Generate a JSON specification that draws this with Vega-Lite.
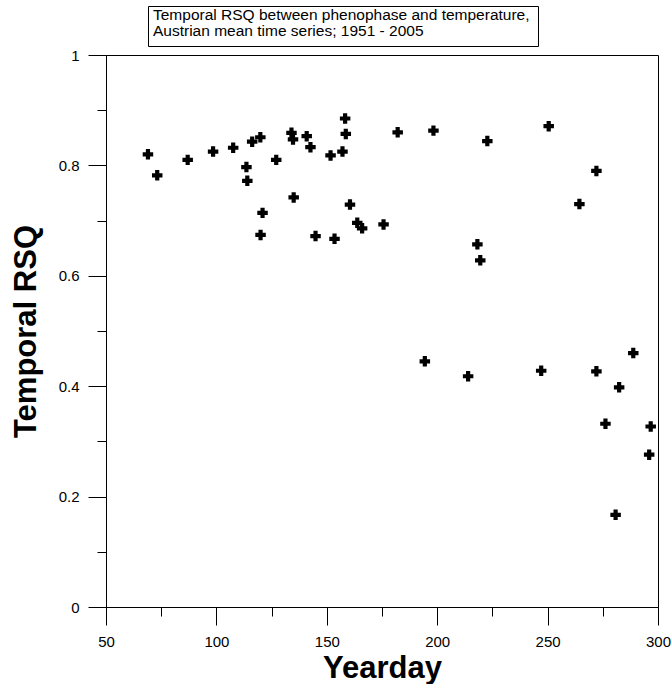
{
  "$schema": "https://vega.github.io/schema/vega-lite/v6.json",
  "padding": {"left": 9, "top": 5, "right": 0, "bottom": 0},
  "background": "white",
  "config": {
    "font": "Liberation Sans",
    "view": {"stroke": "black", "strokeWidth": 1},
    "axis": {
      "grid": false,
      "domainColor": "black",
      "tickColor": "black",
      "labelColor": "black",
      "titleColor": "black",
      "labelFont": "Liberation Sans",
      "labelFontSize": 15,
      "titleFont": "Liberation Sans",
      "titleFontSize": 31,
      "titleFontWeight": "bold"
    }
  },
  "spacing": 0,
  "vconcat": [
    {
      "spacing": 0,
      "hconcat": [
        {
          "width": 41,
          "height": 40,
          "view": {"stroke": null},
          "data": {"values": [{"line": 0}]},
          "mark": {"type": "text"},
          "encoding": {"text": {"value": ""}}
        },
        {
          "width": 390,
          "height": 40,
          "view": {"stroke": "black", "strokeWidth": 1},
          "data": {"values": [
            {"line": 1, "text": "Temporal RSQ between phenophase and temperature,"},
            {"line": 2, "text": "Austrian mean time series; 1951 - 2005"}
          ]},
          "mark": {"type": "text", "align": "left", "baseline": "middle", "fontSize": 15.5, "dx": 5, "color": "black", "font": "Liberation Sans"},
          "encoding": {
            "x": {"datum": 0, "type": "quantitative", "scale": {"domain": [0, 1]}, "axis": null},
            "y": {"field": "line", "type": "quantitative", "scale": {"domain": [0.4375, 2.9375], "reverse": true, "nice": false, "zero": false}, "axis": null},
            "text": {"field": "text"}
          }
        }
      ]
    },
    {
      "width": 552,
      "height": 552,
      "data": {"values": [
        {"yearday": 69, "rsq": 0.820},
        {"yearday": 73.2, "rsq": 0.782},
        {"yearday": 87, "rsq": 0.810},
        {"yearday": 98.5, "rsq": 0.825},
        {"yearday": 107.6, "rsq": 0.832},
        {"yearday": 113.6, "rsq": 0.797},
        {"yearday": 114, "rsq": 0.772},
        {"yearday": 116.2, "rsq": 0.843},
        {"yearday": 119.9, "rsq": 0.851},
        {"yearday": 120.9, "rsq": 0.714},
        {"yearday": 120, "rsq": 0.674},
        {"yearday": 127.1, "rsq": 0.810},
        {"yearday": 134, "rsq": 0.859},
        {"yearday": 134.7, "rsq": 0.847},
        {"yearday": 135, "rsq": 0.742},
        {"yearday": 140.9, "rsq": 0.853},
        {"yearday": 142.6, "rsq": 0.833},
        {"yearday": 144.9, "rsq": 0.672},
        {"yearday": 151.7, "rsq": 0.818},
        {"yearday": 153.5, "rsq": 0.667},
        {"yearday": 157.1, "rsq": 0.825},
        {"yearday": 158.3, "rsq": 0.885},
        {"yearday": 158.6, "rsq": 0.857},
        {"yearday": 160.5, "rsq": 0.729},
        {"yearday": 163.8, "rsq": 0.696},
        {"yearday": 166, "rsq": 0.686},
        {"yearday": 175.7, "rsq": 0.693},
        {"yearday": 182.1, "rsq": 0.860},
        {"yearday": 198.3, "rsq": 0.863},
        {"yearday": 222.7, "rsq": 0.844},
        {"yearday": 218.2, "rsq": 0.657},
        {"yearday": 219.5, "rsq": 0.628},
        {"yearday": 194.4, "rsq": 0.445},
        {"yearday": 214, "rsq": 0.418},
        {"yearday": 250.5, "rsq": 0.871},
        {"yearday": 247.1, "rsq": 0.428},
        {"yearday": 264.4, "rsq": 0.730},
        {"yearday": 272.1, "rsq": 0.790},
        {"yearday": 272.1, "rsq": 0.427},
        {"yearday": 282.4, "rsq": 0.398},
        {"yearday": 288.8, "rsq": 0.460},
        {"yearday": 276.2, "rsq": 0.332},
        {"yearday": 296.7, "rsq": 0.327},
        {"yearday": 296, "rsq": 0.276},
        {"yearday": 280.8, "rsq": 0.167}
      ]},
      "layer": [
        {
          "mark": {"type": "point", "shape": "cross", "filled": true, "color": "black", "size": 110, "opacity": 1},
          "encoding": {
            "x": {"field": "yearday", "type": "quantitative",
              "scale": {"domain": [50, 300], "nice": false, "zero": false},
              "axis": {"orient": "bottom", "values": [50, 100, 150, 200, 250, 300], "tickSize": 18, "labelPadding": 9, "title": "Yearday", "titlePadding": 4, "labelFlush": false}},
            "y": {"field": "rsq", "type": "quantitative",
              "scale": {"domain": [0, 1], "nice": false, "zero": false},
              "axis": {"orient": "left", "values": [0, 0.2, 0.4, 0.6, 0.8, 1], "format": "~g", "tickSize": 18, "labelPadding": 9, "title": "Temporal RSQ", "titlePadding": 16, "labelFlush": false}}
          }
        },
        {
          "mark": {"type": "point", "opacity": 0},
          "encoding": {
            "x": {"field": "yearday", "type": "quantitative",
              "axis": {"orient": "bottom", "values": [75, 125, 175, 225, 275], "tickSize": 9, "labels": false, "domain": false, "title": null}},
            "y": {"field": "rsq", "type": "quantitative",
              "axis": {"orient": "left", "values": [0.1, 0.3, 0.5, 0.7, 0.9], "tickSize": 9, "labels": false, "domain": false, "title": null}}
          }
        }
      ],
      "resolve": {"axis": {"x": "independent", "y": "independent"}}
    }
  ]
}
